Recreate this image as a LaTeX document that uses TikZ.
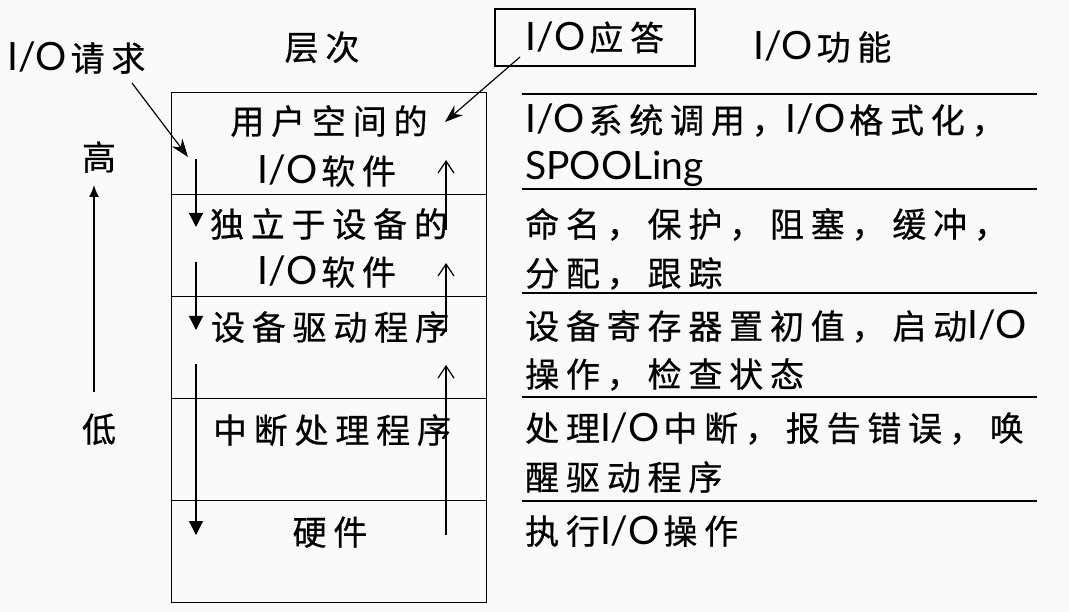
\documentclass[tikz,border=0pt]{standalone}
\usepackage{fontspec}
\usetikzlibrary{arrows.meta}
\newfontfamily\cjkf{Noto Sans CJK SC}[LetterSpace=20,FakeBold=0.6]
\newfontfamily\latf{Lato}
\newcommand\IO{{\latf\fontsize{39}{46}\selectfont I/O}\hspace{4pt}}
\newcommand\IOe{{\latf\fontsize{39}{46}\selectfont I/O}}
\tikzset{
  txt/.style={font=\cjkf\fontsize{34}{48}\selectfont, inner sep=0pt},
  layer/.style={draw, line width=1.2pt, minimum width=315pt, minimum height=102pt, inner sep=0pt, anchor=north west},
  rulel/.style={line width=1.2pt},
  dn/.style={-{Triangle[width=14pt,length=14pt]}, line width=1.2pt},
  upa/.style={-{Straight Barb[width=16pt,length=12pt]}, line width=1.2pt},
  diag/.style={-{Stealth[width=13pt,length=18pt]}, line width=1.2pt},
  hl/.style={-{Latex[width=10pt,length=12pt]}, line width=1.6pt},
}
\begin{document}
\begin{tikzpicture}[x=1pt,y=-1pt]
\fill[white!98!black] (0,0) rectangle (1069,612);
\useasboundingbox (0,0) rectangle (1069,612);
% layers
\node[layer] (L1) at (171,92) {};
\node[layer] (L2) at (171,194) {};
\node[layer] (L3) at (171,296) {};
\node[layer] (L4) at (171,398) {};
\node[layer] (L5) at (171,500) {};
% layer texts
\node[txt, anchor=base] (t1a) at (329,134) {用户空间的};
\node[txt, anchor=base] (t1b) at (327,184) {\IO 软件};
\node[txt, anchor=base] (t2a) at (329,237) {独立于设备的};
\node[txt, anchor=base] (t2b) at (327,285) {\IO 软件};
\node[txt, anchor=base] (t3) at (330,340) {设备驱动程序};
\node[txt, anchor=base] (t4) at (332,443) {中断处理程序};
\node[txt, anchor=base] (t5) at (330,545) {硬件};
% headers
\node[txt, anchor=base] (hdr) at (322,60) {层次};
\node[txt, anchor=base west] (fun) at (753,60) {\IO 功能};
\node[txt, anchor=base west] (req) at (7,71) {\IO 请求};
\node[txt, draw, line width=1.2pt, minimum width=200pt, minimum height=57pt] (resp) at (595,37.5) {\IO 应答};
\node[txt, anchor=base] (hi) at (99,170) {高};
\node[txt, anchor=base] (lo) at (99,442) {低};
% right column
\foreach \yy in {94,189,293,397,501} \draw[rulel] (522,\yy) -- (1037,\yy);
\node[txt, anchor=base west] (r1a) at (525,133) {\IO 系统调用，\IO 格式化，};
\node[txt, anchor=base west] (r1b) at (525,180) {{\latf\fontsize{39}{46}\selectfont SPOOLing}};
\node[txt, anchor=base west] (r2a) at (525,237) {命名，保护，阻塞，缓冲，};
\node[txt, anchor=base west] (r2b) at (525,286) {分配，跟踪};
\node[txt, anchor=base west] (r3a) at (525,339) {设备寄存器置初值，启动\IOe};
\node[txt, anchor=base west] (r3b) at (525,387) {操作，检查状态};
\node[txt, anchor=base west] (r4a) at (525,441) {处理\IO 中断，报告错误，唤};
\node[txt, anchor=base west] (r4b) at (525,490) {醒驱动程序};
\node[txt, anchor=base west] (r5) at (525,544) {执行\IO 操作};
% arrow coordinates
\coordinate (rq0) at (132,83);
\coordinate (rq1) at (188,157);
\coordinate (rs0) at (520,57);
\coordinate (rs1) at (445,122);
\coordinate (d1s) at (196,159); \coordinate (d1e) at (196,227);
\coordinate (d2s) at (196,262); \coordinate (d2e) at (196,330);
\coordinate (d3s) at (196,364); \coordinate (d3e) at (196,535);
\coordinate (u1s) at (446,535); \coordinate (u1e) at (446,365);
\coordinate (u2s) at (446,332); \coordinate (u2e) at (446,263);
\coordinate (u3s) at (446,230); \coordinate (u3e) at (446,160);
\coordinate (hls) at (94,392); \coordinate (hle) at (94,185);
\draw[diag] (rq0) -- (rq1);
\draw[diag] (rs0) -- (rs1);
\draw[dn] (d1s) -- (d1e);
\draw[dn] (d2s) -- (d2e);
\draw[dn] (d3s) -- (d3e);
\draw[upa] (u1s) -- (u1e);
\draw[upa] (u2s) -- (u2e);
\draw[upa] (u3s) -- (u3e);
\draw[hl] (hls) -- (hle);
\end{tikzpicture}
\end{document}
